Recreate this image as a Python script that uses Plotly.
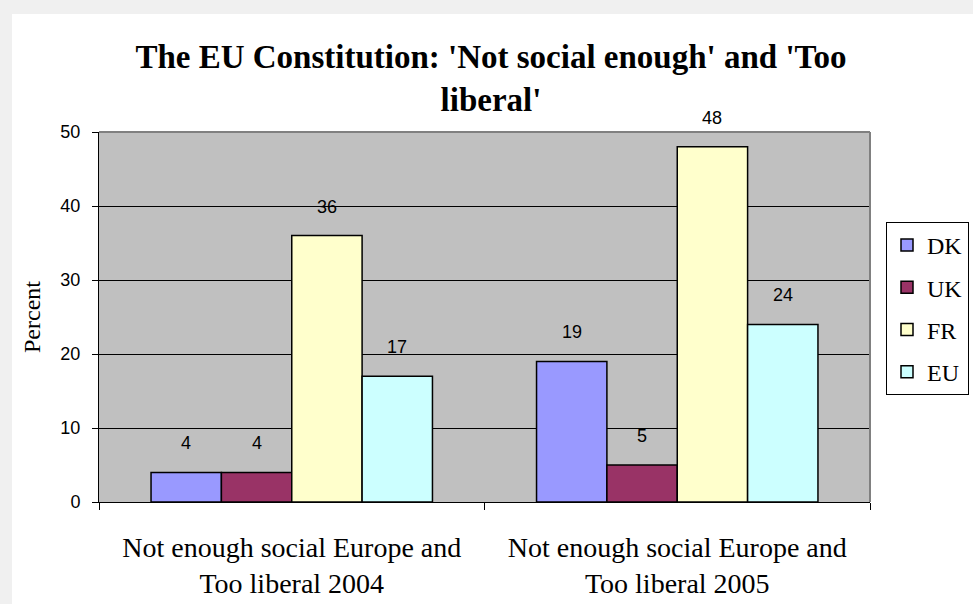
import plotly.graph_objects as go

categories = ["Not enough social Europe and<br>Too liberal 2004",
              "Not enough social Europe and<br>Too liberal 2005"]
series_names = ["DK", "UK", "FR", "EU"]
series_values = {
    "DK": [4, 19],
    "UK": [4, 5],
    "FR": [36, 48],
    "EU": [17, 24],
}
colors = {"DK": "#9999FF", "UK": "#993366", "FR": "#FFFFCC", "EU": "#CCFFFF"}
y_ticks = [0, 10, 20, 30, 40, 50]

W, H = 973, 604
ML, MR, MT, MB = 99, 103, 132, 102
BARGAP = 0.27
plot_w = W - ML - MR
plot_h = H - MT - MB
cat_w = plot_w / len(categories)
bar_w = cat_w * (1 - BARGAP) / len(series_names)

SERIF = "Liberation Serif, Times New Roman, serif"
SANS = "Liberation Sans, Arial, sans-serif"

fig = go.Figure()
annotations = []
for i, name in enumerate(series_names):
    fig.add_trace(go.Bar(
        name=name, x=categories, y=series_values[name],
        marker=dict(color=colors[name], line=dict(color="black", width=1.5)),
        legendgroup=name,
    ))
    shift = (i - (len(series_names) - 1) / 2) * bar_w
    for c, v in zip(categories, series_values[name]):
        annotations.append(dict(
            x=c, y=v, xref="x", yref="y", text=str(v), showarrow=False,
            xshift=shift, yshift=17, yanchor="bottom",
            font=dict(family=SANS, size=18, color="black"),
        ))

shapes = [
    dict(type="rect", xref="paper", yref="paper",
         x0=(12 - ML) / plot_w, x1=2, y0=-1, y1=(H - MB - 14) / plot_h,
         fillcolor="white", line=dict(width=0), layer="below"),
    dict(type="rect", xref="paper", yref="paper", x0=0, x1=1, y0=0, y1=1,
         fillcolor="#C0C0C0", line=dict(width=0), layer="below"),
    dict(type="line", xref="paper", yref="paper", x0=0, x1=1, y0=1, y1=1,
         line=dict(color="#808080", width=2), layer="above"),
    dict(type="line", xref="paper", yref="paper", x0=1, x1=1, y0=0, y1=1,
         line=dict(color="#808080", width=2), layer="above"),
]

fig.update_layout(
    width=W, height=H,
    margin=dict(l=ML, r=MR, t=MT, b=MB, pad=0, autoexpand=False),
    paper_bgcolor="#F0F0F0",
    plot_bgcolor="rgba(0,0,0,0)",
    barmode="group", bargap=BARGAP, bargroupgap=0,
    title=dict(
        text="<b>The EU Constitution: 'Not social enough' and 'Too<br>liberal'</b>",
        x=491 / W, xanchor="center", y=1 - 68 / H, yanchor="bottom",
        font=dict(family=SERIF, size=33, color="black"),
    ),
    xaxis=dict(
        type="category", tickson="boundaries", ticks="outside", ticklen=7,
        tickcolor="black", showline=True, linecolor="black", linewidth=1,
        showgrid=False, ticklabelstandoff=20,
        tickfont=dict(family=SERIF, size=28, color="black"),
    ),
    yaxis=dict(
        range=[0, 50], tickvals=y_ticks, ticks="outside", ticklen=6,
        tickcolor="black", showline=True, linecolor="black", linewidth=1,
        showgrid=True, gridcolor="black", gridwidth=1, zeroline=False,
        ticklabelstandoff=8,
        tickfont=dict(family=SANS, size=18, color="black"),
        title=dict(text="Percent", standoff=12,
                   font=dict(family=SERIF, size=24, color="black")),
    ),
    legend=dict(
        x=(886 - ML) / plot_w, xanchor="left",
        y=(H - MB - 222) / plot_h, yanchor="top",
        bgcolor="white", bordercolor="black", borderwidth=1,
        font=dict(family=SERIF, size=24, color="black"),
        tracegroupgap=8,
    ),
    shapes=shapes,
    annotations=annotations,
)

fig.write_html("out.html")
